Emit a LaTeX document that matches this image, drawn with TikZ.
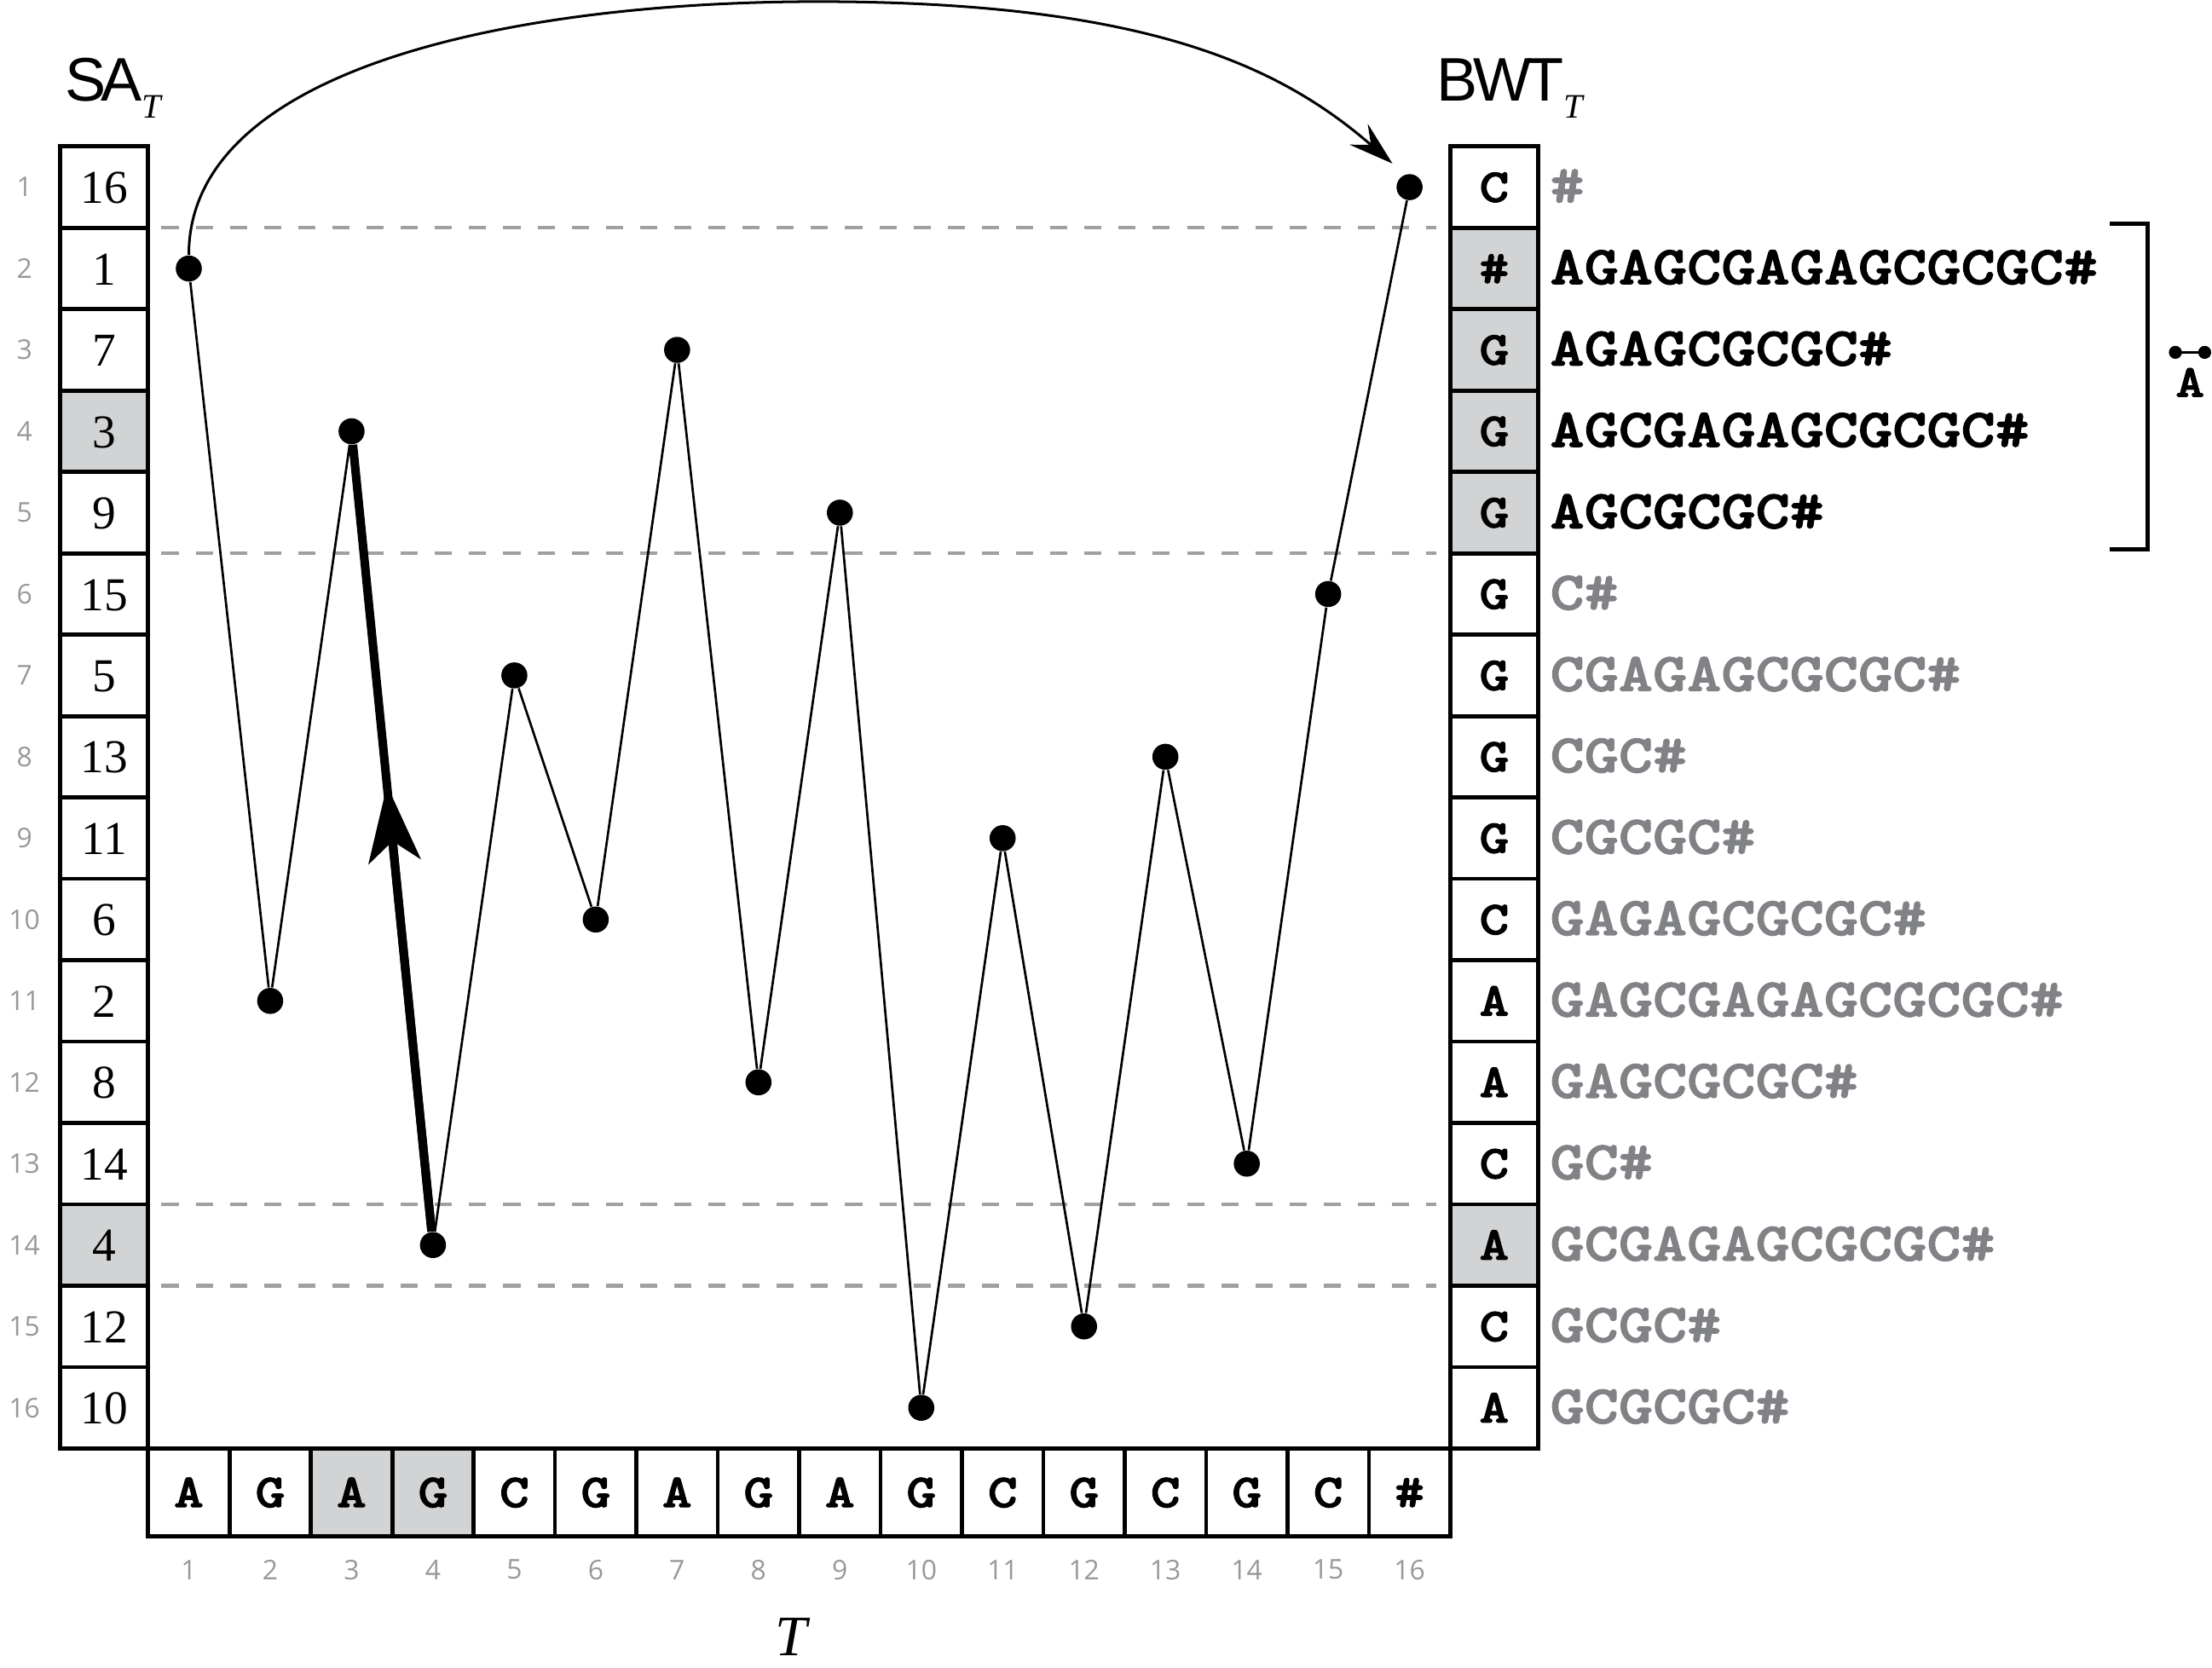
\documentclass[tikz,border=0pt]{standalone}
\usepackage{fontspec}
\setmainfont{Liberation Serif}
\newfontfamily\seqfont[FakeStretch=1.2,FakeBold=2]{lmmonolt10-bold.otf}
\newfontfamily\headfont[LetterSpace=-8]{Liberation Sans}
\newfontfamily\idxfont{Open Sans}
\usepackage{xcolor}
\definecolor{boxgray}{RGB}{209,211,212}
\definecolor{sufgray}{RGB}{128,130,133}
\definecolor{idxgray}{RGB}{150,152,155}
\definecolor{dashgray}{RGB}{160,160,160}
\usetikzlibrary{arrows.meta,calc}

\begin{document}
\begin{tikzpicture}[
        >=Stealth,
        cell/.style={draw,line width=1.4pt,inner sep=0pt,text height=0.4cm,text depth=0pt},
        sacell/.style={cell,minimum width=1.08cm,minimum height=1cm,font=\fontsize{16.5}{16.5}\selectfont},
        bwtcell/.style={cell,minimum width=1.08cm,minimum height=1cm,text height=0.36cm,font=\seqfont\fontsize{16.5}{16.5}\selectfont},
        tcell/.style={cell,minimum width=1cm,minimum height=1.08cm,text height=0.36cm,font=\seqfont\fontsize{16.5}{16.5}\selectfont},
        plain/.style={fill=white},
        marked/.style={fill=boxgray},
        idx/.style={text=idxgray,inner sep=0pt,font=\idxfont\fontsize{9.5}{9.5}\selectfont},
        suffix/.style={anchor=base west,inner sep=0pt,font=\seqfont\fontsize{19}{19}\selectfont},
        headlabel/.style={anchor=base west,inner sep=0pt,font=\headfont\fontsize{21.5}{21.5}\selectfont},
        pt/.style={circle,fill=black,inner sep=0pt,minimum size=0.32cm},
        zig/.style={line width=0.8pt},
        heavy/.style={line width=3pt},
        rankline/.style={dashgray,line width=1.2pt,dash pattern=on 0.21cm off 0.21cm}
    ]
        \useasboundingbox (-1.82,-2.69) rectangle (25.36,17.80);

        \node[headlabel] (salabel) at (-1.03,16.56) {SA\raisebox{-0.21cm}{\normalfont\fontsize{12}{12}\selectfont\itshape T}};
        \node[headlabel] (bwtlabel) at (15.83,16.56) {BWT\raisebox{-0.21cm}{\normalfont\fontsize{12}{12}\selectfont\itshape T}};

        \foreach \r in {1,...,16}
            \node[idx] (row\r) at (-1.52,16.5-\r) {\r};
        \foreach \i in {1,...,16}
            \node[idx] (col\i) at (\i-0.5,-1.49) {\i};

        \foreach \v/\f [count=\r] in {16/plain,1/plain,7/plain,3/marked,9/plain,15/plain,5/plain,13/plain,11/plain,6/plain,2/plain,8/plain,14/plain,4/marked,12/plain,10/plain}
            \node[sacell,\f] (sa\r) at (-0.54,16.5-\r) {\v};
        \foreach \c/\f [count=\r] in {C/plain,\#/marked,G/marked,G/marked,G/marked,G/plain,G/plain,G/plain,G/plain,C/plain,A/plain,A/plain,C/plain,A/marked,C/plain,A/plain}
            \node[bwtcell,\f] (bwt\r) at (16.54,16.5-\r) {\c};
        \foreach \c/\f [count=\i] in {A/plain,G/plain,A/marked,G/marked,C/plain,G/plain,A/plain,G/plain,A/plain,G/plain,C/plain,G/plain,C/plain,G/plain,C/plain,\#/plain}
            \node[tcell,\f] (t\i) at (\i-0.5,-0.54) {\c};

        \foreach \r in {1,5,13,14}
            \draw[rankline] ($(sa\r.east)+(0.14,-0.5)$) -- ($(bwt\r.west)+(-0.15,-0.5)$);

        \foreach \s/\c [count=\r] in {\#/sufgray,AGAGCGAGAGCGCGC\#/black,AGAGCGCGC\#/black,AGCGAGAGCGCGC\#/black,AGCGCGC\#/black,C\#/sufgray,CGAGAGCGCGC\#/sufgray,CGC\#/sufgray,CGCGC\#/sufgray,GAGAGCGCGC\#/sufgray,GAGCGAGAGCGCGC\#/sufgray,GAGCGCGC\#/sufgray,GC\#/sufgray,GCGAGAGCGCGC\#/sufgray,GCGC\#/sufgray,GCGCGC\#/sufgray}
            \node[suffix,text=\c] (suf\r) at (17.22,16.31-\r) {\s};

        \foreach \k [count=\i] in {2,11,4,14,7,10,3,12,5,16,9,15,8,13,6,1}
            \node[pt] (d\i) at (\i-0.5,16.5-\k) {};

        \foreach \i [remember=\i as \j (initially 1)] in {2,...,16}
            \draw[zig] (d\j) -- (d\i);

        \coordinate (midtip) at ($(d4)!0.565!(d3)$);
        \draw[heavy] (d4) -- (d3);
        \draw[heavy,-{Stealth[length=0.94cm,width=0.64cm,inset=0.25cm]}] (d4) -- (midtip);

        \coordinate (crest) at (8.23,17.78);
        \coordinate (land) at ($(d16)+(-0.21,0.29)$);
        \draw[line width=0.9pt,-{Stealth[length=0.55cm,width=0.34cm,inset=0.2cm]}] (d1) .. controls (0.5,17.0) and (4.6,17.78) .. (crest) .. controls (12.3,17.78) and (13.93,16.97) .. (land);

        \draw[line width=1.4pt] (24.1,15.05) -- (24.57,15.05) -- (24.57,11.05) -- (24.1,11.05);
        \node[inner sep=0pt,text height=0.35cm,text depth=0pt,font=\seqfont\fontsize{16}{16}\selectfont] (abar) at (25.09,13.1) {A};
        \draw[line width=0.8pt] (24.91,13.47) -- (25.27,13.47);
        \fill (24.91,13.47) circle (0.08) (25.27,13.47) circle (0.08);

        \node[anchor=base,inner sep=0pt,font=\itshape\fontsize{20}{20}\selectfont] (tlabel) at (7.9,-2.55) {T};
    \end{tikzpicture}
\end{document}
